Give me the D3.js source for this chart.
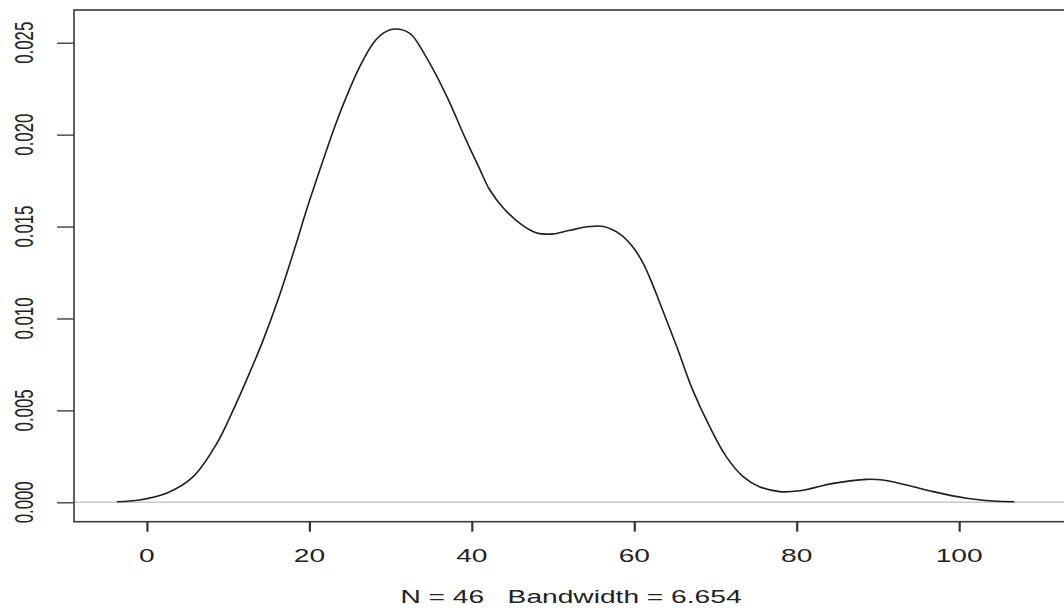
<!DOCTYPE html>
<html>
<head>
<meta charset="utf-8">
<script src="https://cdn.jsdelivr.net/npm/d3@7"></script>
<style>
  html, body { margin: 0; padding: 0; background: #fff; }
  svg { display: block; }
  text { font-family: "Liberation Sans", Arial, sans-serif; fill: #222; white-space: pre; }
</style>
</head>
<body>
<svg id="chart" width="1064" height="608"></svg>
<script>
// Kernel density estimate of the sample (x positions and density heights)
const densityX = [-3.7, -0.9, 2.4, 5.7, 8.6, 10.6, 12.6, 14.2, 16.2, 18.4, 19.5, 21.3, 23.1, 24.5,
  26.2, 27.9, 29.2, 30.5, 32.4, 34.4, 36.9, 39.3, 41.0, 42.2, 43.9, 46.0, 48.0, 50.0, 52.1, 54.5,
  56.2, 58.2, 59.8, 61.1, 62.3, 63.1, 65.2, 67.2, 69.3, 71.3, 73.4, 75.4, 77.9, 80.4, 84.5, 88.6,
  90.6, 93.5, 96.8, 100.9, 104.2, 106.8];
const densityY = [0.00003, 0.00013, 0.00049, 0.0014, 0.0032, 0.0050, 0.0070, 0.0087, 0.0111, 0.0141,
  0.0157, 0.0181, 0.0204, 0.0220, 0.0237, 0.0250, 0.02555, 0.02575, 0.0255, 0.0242, 0.0221, 0.0197,
  0.0181, 0.0170, 0.0160, 0.01515, 0.01465, 0.0146, 0.0148, 0.0150, 0.0150, 0.0146, 0.0139, 0.0130,
  0.0118, 0.0109, 0.0085, 0.0061, 0.0041, 0.0025, 0.0014, 0.00085, 0.00058, 0.00063, 0.00103,
  0.00125, 0.00121, 0.00094, 0.00058, 0.00022, 0.00007, 0.00003];

const xTicks = [0, 20, 40, 60, 80, 100];
const xTickLabels = ["0", "20", "40", "60", "80", "100"];
const yTicks = [0, 0.005, 0.010, 0.015, 0.020, 0.025];
const yTickLabels = ["0.000", "0.005", "0.010", "0.015", "0.020", "0.025"];
const subtitle = "N = 46   Bandwidth = 6.654";

// Plot region
const plotLeft = 74, plotRight = 1068, plotTop = 10, plotBottom = 521.7;
const sx = 1.6; // horizontal glyph stretch

const svg = d3.select("#chart");

const x = d3.scaleLinear().domain([-8.98, 113.4]).range([plotLeft, plotRight]);
const y = d3.scaleLinear().domain([-0.001055, 0.02678]).range([plotBottom, plotTop]);

// Zero reference line
svg.append("line")
  .attr("x1", plotLeft).attr("x2", plotRight)
  .attr("y1", y(0)).attr("y2", y(0))
  .attr("stroke", "#c8c8c8").attr("stroke-width", 1.5);

// Density curve
const pts = densityX.map((d, i) => [d, densityY[i]]);
svg.append("path")
  .datum(pts)
  .attr("fill", "none")
  .attr("stroke", "#1e1e1e")
  .attr("stroke-width", 1.6)
  .attr("stroke-linejoin", "round")
  .attr("d", d3.line().x(d => x(d[0])).y(d => y(d[1])).curve(d3.curveCatmullRom.alpha(0.5)));

// Plot box
svg.append("rect")
  .attr("x", plotLeft).attr("y", plotTop)
  .attr("width", plotRight - plotLeft).attr("height", plotBottom - plotTop)
  .attr("fill", "none").attr("stroke", "#3a3a3a").attr("stroke-width", 1.6);

// Axes (ticks only; labels drawn separately)
const xAxis = svg.append("g")
  .attr("transform", `translate(0,${plotBottom})`)
  .call(d3.axisBottom(x).tickValues(xTicks).tickSize(10).tickSizeOuter(0).tickFormat(""));
xAxis.select(".domain").remove();
xAxis.selectAll(".tick line").attr("stroke", "#333").attr("stroke-width", 2.2);

const yAxis = svg.append("g")
  .attr("transform", `translate(${plotLeft},0)`)
  .call(d3.axisLeft(y).tickValues(yTicks).tickSize(17).tickSizeOuter(0).tickFormat(""));
yAxis.select(".domain").remove();
yAxis.selectAll(".tick line").attr("stroke", "#333").attr("stroke-width", 1.3);

// X tick labels
svg.append("g").selectAll("text")
  .data(xTicks)
  .join("text")
  .attr("transform", d => `translate(${x(d)},561.7) scale(${sx},1)`)
  .attr("text-anchor", "middle")
  .attr("font-size", 17.6)
  .text((d, i) => xTickLabels[i]);

// Y tick labels (rotated)
svg.append("g").selectAll("text")
  .data(yTicks)
  .join("text")
  .attr("transform", d => `translate(33,${y(d)}) scale(1.5,1) rotate(-90)`)
  .attr("text-anchor", "middle")
  .attr("font-size", 16.8)
  .text((d, i) => yTickLabels[i]);

// Subtitle under the axis
svg.append("text")
  .attr("transform", `translate(${(plotLeft + plotRight) / 2},602.7) scale(${sx},1)`)
  .attr("text-anchor", "middle")
  .attr("font-size", 17.6)
  .text(subtitle);
</script>
</body>
</html>
